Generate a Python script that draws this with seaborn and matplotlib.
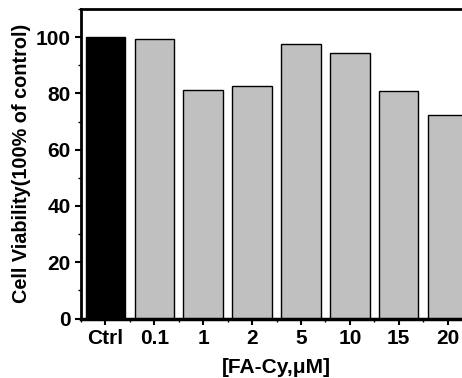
import numpy as np
import pandas as pd
import seaborn as sns
import matplotlib.pyplot as plt
from matplotlib.ticker import MultipleLocator

# datos
grupos = ["Ctrl", "0.1", "1", "2", "5", "10", "15", "20"]
viabilidad = [100, 99.4, 81.3, 82.7, 97.4, 94.2, 80.7, 72.4]
colores = ["#000000"] + ["#c0c0c0"] * 7

df = pd.DataFrame({"grupo": grupos, "viab": viabilidad})

sns.set_style("ticks")
plt.rcParams['font.family'] = ['Liberation Sans', 'DejaVu Sans']
plt.rcParams['font.weight'] = 'bold'
plt.rcParams['text.color'] = 'black'
plt.rcParams['axes.labelcolor'] = 'black'
plt.rcParams['xtick.color'] = 'black'
plt.rcParams['ytick.color'] = 'black'
plt.rcParams['axes.edgecolor'] = 'black'

fig = plt.figure(figsize=(4.62, 3.78), dpi=100)
ax = fig.add_axes([81 / 462, 1 - 318.5 / 378, (472 - 81) / 462, (318.5 - 9) / 378])

sns.barplot(data=df, x="grupo", y="viab", hue="grupo", palette=colores,
            width=0.81, edgecolor="black", linewidth=1, legend=False, ax=ax)

ax.set_ylim(0, 110)
ax.set_xlim(-0.49, 7.5)
ax.yaxis.set_major_locator(MultipleLocator(20))
ax.yaxis.set_minor_locator(MultipleLocator(10))
ax.set_xticks(np.arange(-0.5, 8, 1), minor=True)

ax.set_xlabel("[FA-Cy,μM]", fontsize=15, fontweight='bold', labelpad=7)
ax.set_ylabel("Cell Viability(100% of control)", fontsize=14.3, fontweight='bold', labelpad=3)
ax.tick_params(axis='both', which='major', labelsize=15, width=1.5, length=4, direction='out', pad=3.5)
ax.tick_params(axis='both', which='minor', width=1, length=2.5, direction='out')
for lab in ax.get_xticklabels() + ax.get_yticklabels():
    lab.set_fontweight('bold')

ax.spines['right'].set_visible(False)
ax.spines['left'].set_linewidth(2)
ax.spines['top'].set_linewidth(2)
ax.spines['bottom'].set_linewidth(2.5)

fig.savefig("out.png", dpi=100)
